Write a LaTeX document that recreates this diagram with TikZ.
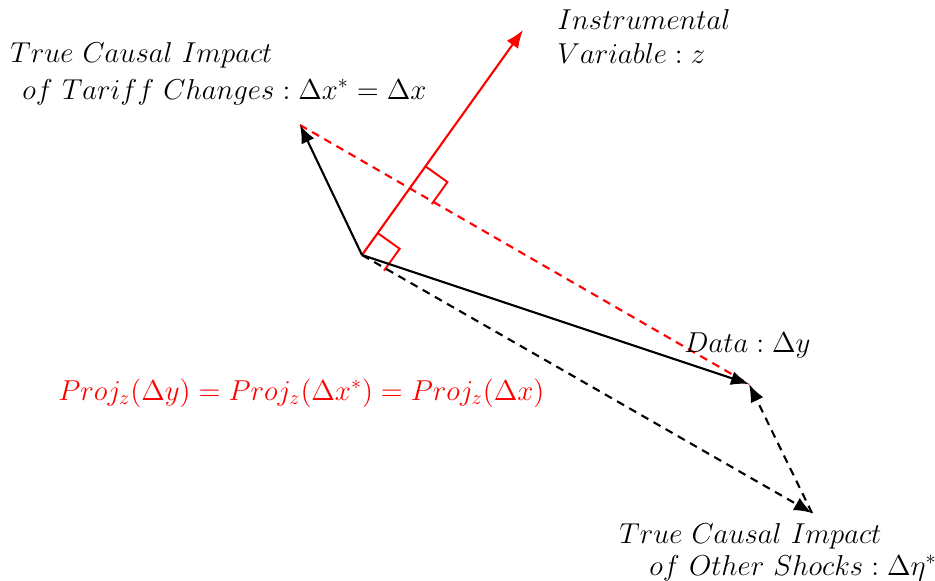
\documentclass[tikz,border=0pt]{standalone}
\usetikzlibrary{arrows.meta,calc}
\begin{document}
\begin{tikzpicture}[x=0.5pt,y=-0.5pt,
  vec/.style={line width=1.05pt,-{Latex[length=9pt,width=7pt]}},
  dvec/.style={vec,dash pattern=on 4pt off 3pt},
  rdash/.style={red,line width=1.05pt,dash pattern=on 4pt off 3pt},
  rangle/.style={red,line width=0.95pt},
  lab/.style={anchor=base west,inner sep=0pt,font=\fontsize{14}{17}\selectfont}]
\useasboundingbox (0,0) rectangle (935,580);
\coordinate (O) at (362,255);
\coordinate (X) at (300,125);
\coordinate (Z) at (523,30);
\coordinate (D) at (749,384);
\coordinate (E) at (812,513);
\coordinate (F) at (intersection of X--D and O--Z);
% right angle markers
\draw[rangle] ($(O)!13.5pt!(Z)$) -- ($($(O)!13.5pt!(Z)$)!13.5pt!-90:(Z)$) -- ($(O)!13.5pt!-90:(Z)$);
\draw[rangle] ($(F)!13.5pt!(Z)$) -- ($($(F)!13.5pt!(Z)$)!13.5pt!-90:(Z)$) -- ($(F)!13.5pt!-90:(Z)$);
% vectors
\draw[rdash] (X) -- (D);
\draw[vec,red] (O) -- (Z);
\draw[vec] (O) -- (X);
\draw[vec] (O) -- (D);
\draw[dvec] (O) -- (E);
\draw[dvec] (E) -- (D);
% labels
\node[lab] (z1) at (557,29) {$Instrumental$};
\node[lab] (z2) at (557,63) {$Variable: z$};
\node[lab] (x1) at (10,62) {$True\ Causal\ Impact$};
\node[lab] (x2) at (22,99) {$of\ Tariff\ Changes: \Delta x^{*}=\Delta x$};
\node[lab] (dy) at (684,352) {$Data: \Delta y$};
\node[lab,red] (pj) at (58,400) {$Proj_z(\Delta y)=Proj_z(\Delta x^{*})=Proj_z(\Delta x)$};
\node[lab] (e1) at (619,543) {$True\ Causal\ Impact$};
\node[lab] (e2) at (649,575) {$of\ Other\ Shocks: \Delta\eta^{*}$};
\end{tikzpicture}
\end{document}
